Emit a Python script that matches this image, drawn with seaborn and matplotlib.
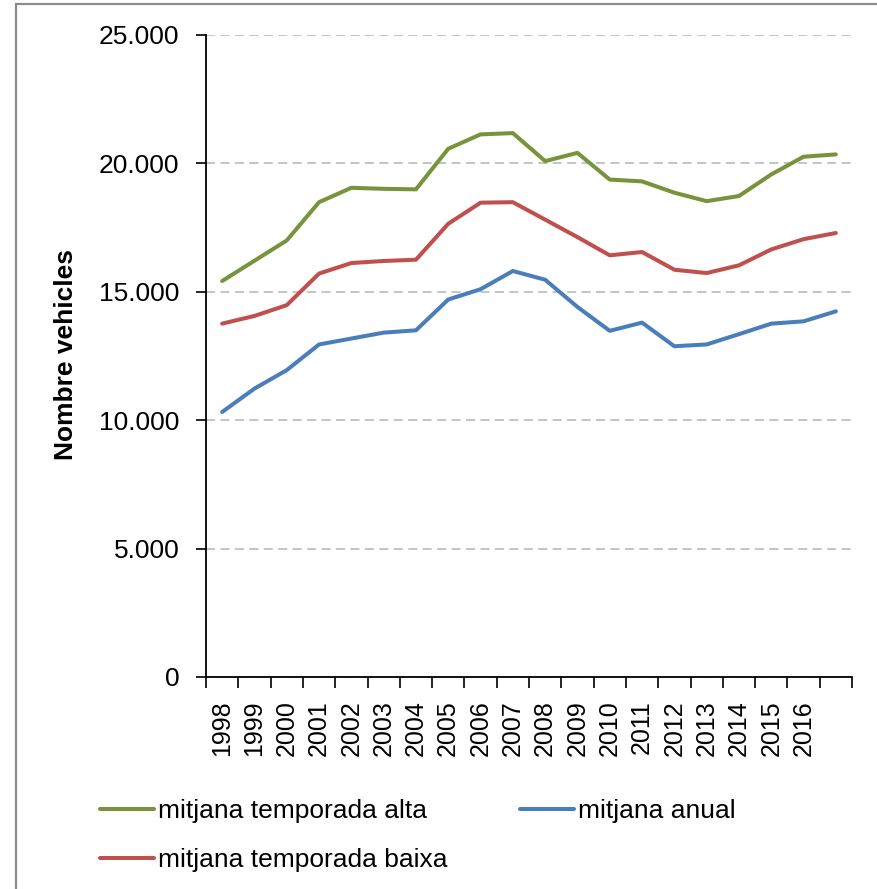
import numpy as np
import pandas as pd
import seaborn as sns
import matplotlib.pyplot as plt
from matplotlib.ticker import FixedLocator, FuncFormatter, NullFormatter
from matplotlib.patches import Rectangle

# Data (last category has no label)
year_labels = ["1998", "1999", "2000", "2001", "2002", "2003", "2004", "2005",
               "2006", "2007", "2008", "2009", "2010", "2011", "2012", "2013",
               "2014", "2015", "2016", ""]
alta = [15420, 16210, 17000, 18490, 19050, 19010, 18990, 20570, 21130, 21180,
        20090, 20410, 19370, 19300, 18860, 18530, 18730, 19570, 20260, 20350]
baixa = [13760, 14060, 14480, 15710, 16120, 16200, 16250, 17650, 18470, 18490,
         17810, 17130, 16420, 16550, 15860, 15730, 16030, 16650, 17050, 17290]
anual = [10320, 11230, 11950, 12950, 13180, 13410, 13500, 14700, 15100, 15810,
         15470, 14410, 13480, 13800, 12880, 12950, 13350, 13760, 13850, 14240]

series_names = ["mitjana temporada alta", "mitjana temporada baixa", "mitjana anual"]
colors = ["#77933C", "#C0504D", "#4A7EBB"]

n = len(year_labels)
df = pd.DataFrame({
    "pos": list(range(n)) * 3,
    "value": alta + baixa + anual,
    "serie": [series_names[0]] * n + [series_names[1]] * n + [series_names[2]] * n,
})

sns.set_theme(style="white")
plt.rcParams["font.family"] = ["Liberation Sans", "DejaVu Sans"]
plt.rcParams["text.color"] = "black"
plt.rcParams["xtick.color"] = "black"
plt.rcParams["ytick.color"] = "black"

W, H = 877, 889
fig = plt.figure(figsize=(W / 100, H / 100), dpi=100)
ax = fig.add_axes([206 / W, 1 - 677 / H, (852 - 206) / W, (677 - 35) / H])

sns.lineplot(data=df, x="pos", y="value", hue="serie", hue_order=series_names,
             palette=colors, linewidth=2.9, ax=ax, legend=False)

ax.set_xlim(-0.5, n - 0.5)
ax.set_ylim(0, 25000)
ax.set_yticks(np.arange(0, 25001, 5000))
ax.yaxis.set_major_formatter(FuncFormatter(lambda v, p: f"{int(v):,}".replace(",", ".")))
ax.grid(axis="y", color="#BFBFBF", linestyle=(0, (5, 3)), linewidth=1.3)
ax.grid(axis="x", visible=False)

# x ticks at category boundaries, labels at centres
ax.xaxis.set_major_locator(FixedLocator(np.arange(-0.5, n, 1.0)))
ax.xaxis.set_major_formatter(NullFormatter())
ax.xaxis.set_minor_locator(FixedLocator(np.arange(n)))
ax.set_xticklabels(year_labels, minor=True, rotation=90, va="top", ha="center")
ax.tick_params(axis="x", which="major", direction="out", length=8, width=1.2,
               bottom=True)
ax.tick_params(axis="x", which="minor", length=0, pad=17, labelsize=18,
               bottom=True)
ax.tick_params(axis="y", direction="out", length=7, width=1.2,
               left=True, pad=12, labelsize=19)

for side in ["top", "right"]:
    ax.spines[side].set_visible(False)
for side in ["left", "bottom"]:
    ax.spines[side].set_color("black")
    ax.spines[side].set_linewidth(1.3)

ax.set_xlabel("")
ax.set_ylabel("")
fig.text(66 / W, 1 - 355 / H, "Nombre vehicles", rotation=90, ha="center",
         va="center", fontsize=19, fontweight="bold")

# Legend
handles = [plt.Line2D([], [], color=c, linewidth=2.9) for c in colors]
fig.legend(handles, series_names, ncol=2, loc="upper left",
           bbox_to_anchor=(100 / W, 1 - 799 / H), frameon=False,
           fontsize=19, handlelength=2.05, handletextpad=0.15,
           columnspacing=2.75, labelspacing=0.95, borderpad=0, borderaxespad=0)

# Outer chart border
fig.patches.append(Rectangle((16 / W, -0.1), 1.2, 1 - 4 / H + 0.1,
                             transform=fig.transFigure, fill=False,
                             edgecolor="#8C8C8C", linewidth=1.6))

fig.savefig("out.png", dpi=100)
